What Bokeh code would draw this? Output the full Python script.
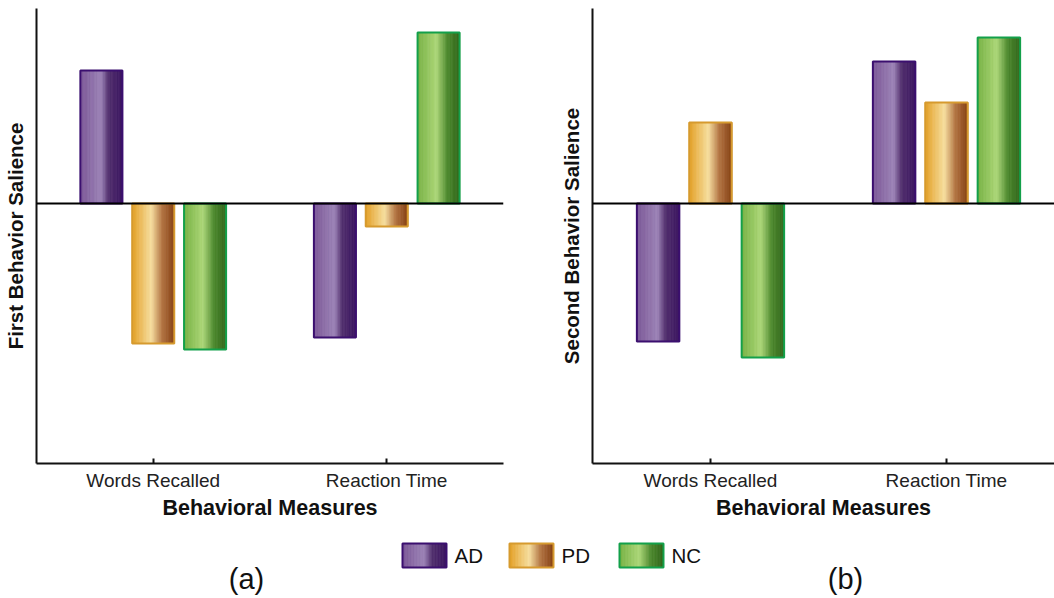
import numpy as np
from bokeh.plotting import figure
from bokeh.layouts import column, row
from bokeh.models import Range1d, FixedTicker, Span
from bokeh.embed import file_html
from bokeh.resources import INLINE
from bokeh.core.properties import value

# ---------------- data ----------------
measures = ["Words Recalled", "Reaction Time"]
groups = ["AD", "PD", "NC"]
first_AD = [1.33, -1.34]
first_PD = [-1.40, -0.23]
first_NC = [-1.46, 1.71]
second_AD = [-1.38, 1.42]
second_PD = [0.81, 1.01]
second_NC = [-1.54, 1.66]
panel_letters = ["(a)", "(b)"]

# ---------------- styles ----------------
FONT = "Liberation Sans"
grad_stops = {
    "AD": [(0.0, "#7b5797"), (0.5, "#9c83b6"), (0.68, "#52306e"), (1.0, "#3b1560")],
    "PD": [(0.0, "#e39f24"), (0.46, "#f6de9f"), (0.72, "#b27442"), (1.0, "#864114")],
    "NC": [(0.0, "#76b142"), (0.46, "#acd678"), (0.72, "#4d892e"), (1.0, "#32671b")],
}
border_col = {"AD": "#3b0f6f", "PD": "#d69a2e", "NC": "#13a04a"}
offsets = [-0.222, 0.0, 0.222]
bar_w = 0.18
NSTRIP = 30


def hex2rgb(h):
    h = h.lstrip("#")
    return np.array([int(h[i:i + 2], 16) for i in (0, 2, 4)], dtype=float)


def grad_colors(stops, n):
    pos = np.array([s[0] for s in stops])
    cols = np.array([hex2rgb(s[1]) for s in stops])
    t = (np.arange(n) + 0.5) / n
    out = []
    for tt in t:
        rgb = [np.interp(tt, pos, cols[:, k]) for k in range(3)]
        out.append("#%02x%02x%02x" % tuple(int(round(c)) for c in rgb))
    return out


def gradient_rect(p, left, right, bottom, top, g, lw=2):
    n = NSTRIP
    cols = grad_colors(grad_stops[g], n)
    edges = np.linspace(left, right, n + 1)
    p.quad(left=edges[:-1], right=edges[1:], bottom=[bottom] * n, top=[top] * n,
           fill_color=cols, line_color=cols, line_width=0.8)
    p.quad(left=[left], right=[right], bottom=[bottom], top=[top],
           fill_alpha=0, line_color=border_col[g], line_width=lw)


def panel(width, bl, br, ylabel, series, x_end):
    p = figure(width=width, height=525, x_range=Range1d(0, x_end),
               y_range=Range1d(-2.6, 1.95), output_backend="svg",
               toolbar_location=None, min_border_left=bl, min_border_right=br,
               min_border_top=8, min_border_bottom=62)
    p.outline_line_color = None
    p.grid.visible = False
    p.background_fill_color = "white"
    p.border_fill_color = "white"

    for gi, g in enumerate(groups):
        vals = series[gi]
        for mi, v in enumerate(vals):
            xc = mi + 0.5 + offsets[gi]
            gradient_rect(p, xc - bar_w / 2, xc + bar_w / 2, min(0, v), max(0, v), g)

    p.add_layout(Span(location=0, dimension="width", line_color="black", line_width=2))

    xa = p.xaxis[0]
    xa.ticker = FixedTicker(ticks=[i + 0.5 for i in range(len(measures))])
    xa.major_label_overrides = {i + 0.5: m for i, m in enumerate(measures)}
    xa.minor_tick_line_color = None
    xa.major_tick_in = 5
    xa.major_tick_out = 0
    xa.major_tick_line_width = 2
    xa.major_tick_line_color = "#111111"
    xa.axis_line_width = 2
    xa.axis_line_color = "#111111"
    xa.major_label_standoff = 6
    xa.major_label_text_font = FONT
    xa.major_label_text_font_size = "19px"
    xa.major_label_text_color = "#222222"
    xa.axis_label = "Behavioral Measures"
    xa.axis_label_text_font = FONT
    xa.axis_label_text_font_style = "bold"
    xa.axis_label_text_font_size = "21.5px"
    xa.axis_label_text_color = "#111111"
    xa.axis_label_standoff = 2

    ya = p.yaxis[0]
    ya.ticker = FixedTicker(ticks=[])
    ya.major_label_text_font_size = "0px"
    ya.major_tick_in = 0
    ya.major_tick_out = 0
    ya.minor_tick_line_color = None
    ya.major_label_standoff = 0
    ya.axis_line_width = 2
    ya.axis_line_color = "#111111"
    ya.axis_label = ylabel
    ya.axis_label_text_font = FONT
    ya.axis_label_text_font_style = "bold"
    ya.axis_label_text_font_size = "20.5px"
    ya.axis_label_text_color = "#111111"
    ya.axis_label_standoff = 10
    return p


p1 = panel(540, 36, 37, "First Behavior Salience", [first_AD, first_PD, first_NC], 2.0)
p2 = panel(514, 52, 0, "Second Behavior Salience", [second_AD, second_PD, second_NC], 462 / 236)

# ---------------- legend and panel letters ----------------
p3 = figure(width=1054, height=73, x_range=Range1d(0, 1054), y_range=Range1d(598, 525),
            output_backend="svg", toolbar_location=None, min_border=0)
p3.axis.visible = False
p3.grid.visible = False
p3.outline_line_color = None

box_left = [402, 509, 619]
for gi, g in enumerate(groups):
    gradient_rect(p3, box_left[gi], box_left[gi] + 44, 567, 543, g)
p3.text(x=[b + 52 for b in box_left], y=[555] * 3, text=groups,
        text_baseline="middle", text_align="left",
        text_font=value(FONT), text_font_size="20.5px", text_color="#111111")
p3.text(x=[246, 845], y=[578] * 2, text=panel_letters,
        text_baseline="middle", text_align="center",
        text_font=value(FONT), text_font_size="29px", text_color="#111111")

layout = column(row(p1, p2), p3)
open("out.html", "w").write(file_html(layout, INLINE))
